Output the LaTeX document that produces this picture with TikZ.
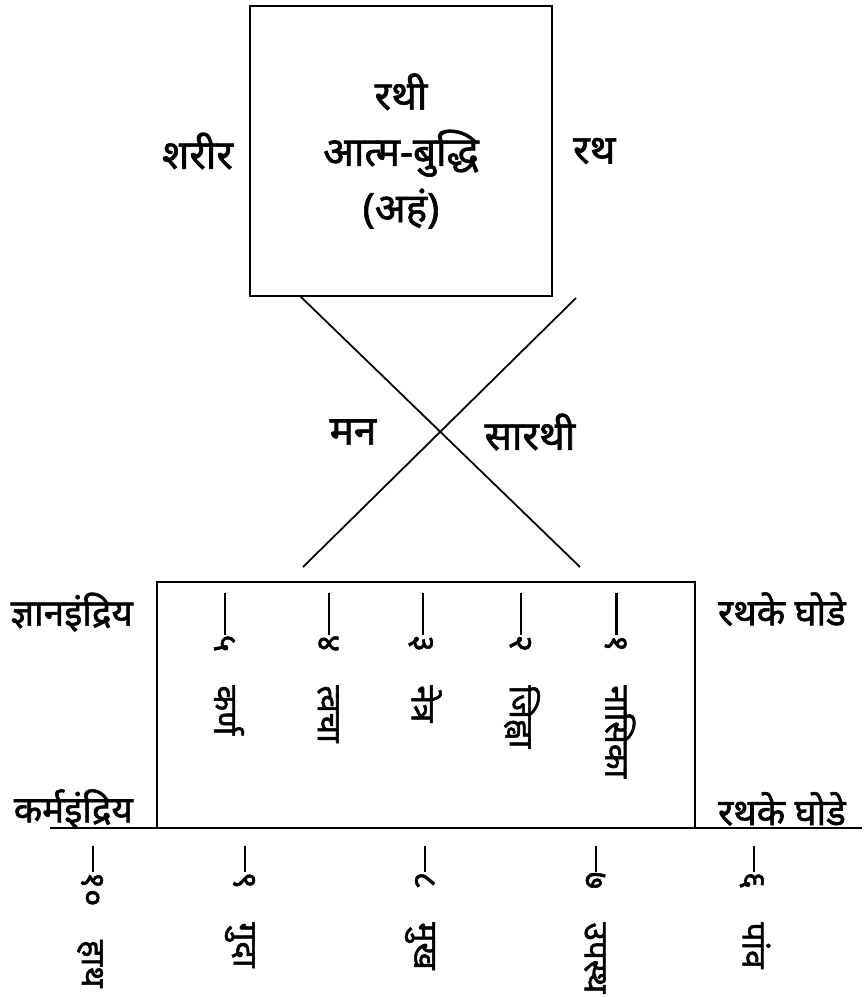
\documentclass[tikz,border=0pt]{standalone}
\usepackage{fontspec}
\newfontfamily\deva[Script=Devanagari,FakeBold=1.5]{Noto Sans}
\usetikzlibrary{positioning,calc}
\newcommand{\tick}[1]{\rule[0.3em]{#1}{0.6pt}}
\tikzset{
  frame/.style ={draw, line width=0.5pt},
  lbl/.style   ={font=\deva\fontsize{10.5}{16}\selectfont, inner sep=1pt, align=center},
  big/.style   ={font=\deva\fontsize{11.5}{16}\selectfont},
  rot/.style   ={font=\deva\fontsize{9.5}{12}\selectfont, inner sep=0pt,
                 rotate=-90, anchor=west},
  crs/.style   ={line width=0.5pt},
}
\begin{document}
\begin{tikzpicture}[x=0.1mm,y=-0.1mm]
\useasboundingbox (0,0) rectangle (866,997);

\node[frame,lbl,big,minimum width=30.2mm,minimum height=29mm] (rathi) at (401,151)
  {रथी\\आत्म-बुद्धि\\(अहं)};
\node[lbl,big,left=1.2mm of rathi] (sharir) {शरीर};
\node[lbl,big,right=1.6mm of rathi] (rath) {रथ};

\node[frame,minimum width=53.8mm,minimum height=24.6mm] (indri) at (426,705) {};
\node[lbl,anchor=east] (gyan) at ([xshift=-1.9mm,yshift=-3.1mm]indri.north west) {ज्ञानइंद्रिय};
\node[lbl,anchor=east] (karm) at ([xshift=-1.9mm,yshift=2mm]indri.south west) {कर्मइंद्रिय};
\node[lbl,anchor=west] (ghoda1) at ([xshift=1.8mm,yshift=-2.8mm]indri.north east) {रथके घोडे};
\node[lbl,anchor=west] (ghoda2) at ([xshift=1.8mm,yshift=2mm]indri.south east) {रथके घोडे};

\coordinate (bl) at (50,828);
\coordinate (br) at (862,828);
\draw[frame] (bl) -- (br);

\coordinate (xa1) at (300,296);
\coordinate (xa2) at (580,567);
\coordinate (xb1) at (576,298);
\coordinate (xb2) at (303,567);
\draw[crs] (xa1) -- (xa2);
\draw[crs] (xb1) -- (xb2);
\node[lbl,big] (man) at (353,432) {मन};
\node[lbl,big] (sarathi) at (530,432) {सारथी};

\foreach \x/\w [count=\i] in {229/५\quad कर्ण, 328/४\quad त्वचा, 425/३\quad नेत्र,
                              522/२\quad जिह्वा, 620/१\quad नासिका}
  \node[rot] (g\i) at (\x,592) {\tick{4.2mm}\w};

\foreach \x/\w [count=\i] in {90/१०\quad हाथ, 240/९\quad गुदा, 420/८\quad मुख,
                              595/७\quad उपस्थ, 755/६\quad पांव}
  \node[rot] (k\i) at (\x,845) {\tick{2.6mm}\w};
\end{tikzpicture}
\end{document}
